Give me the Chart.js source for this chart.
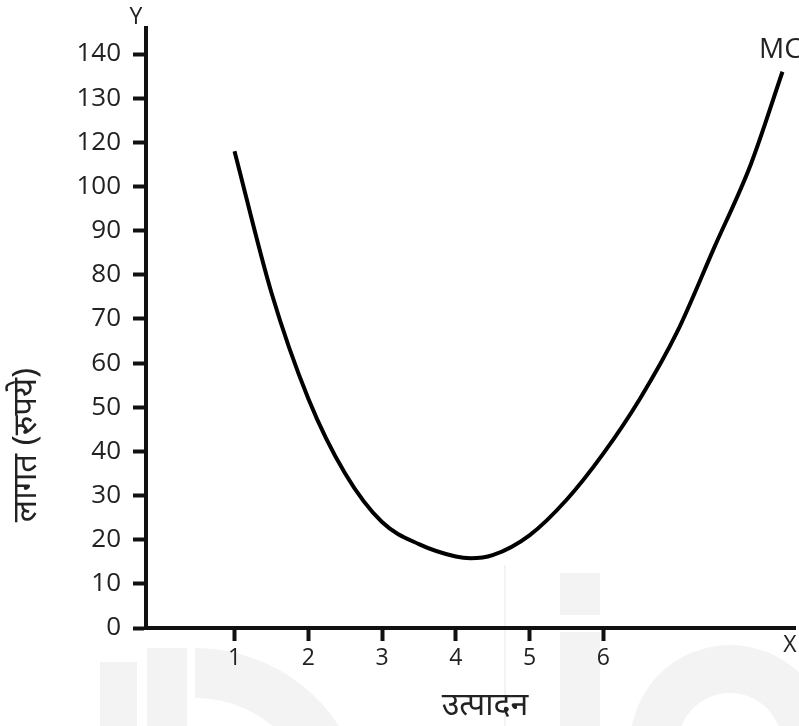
<!DOCTYPE html>
<html>
<head>
<meta charset="utf-8">
<script src="https://cdn.jsdelivr.net/npm/chart.js@4.4.1/dist/chart.umd.min.js"></script>
<style>
  body { margin: 0; background: #fff; }
  #wrap { width: 799px; height: 726px; }
</style>
</head>
<body>
<div id="wrap"><canvas id="mc-chart" width="799" height="726"></canvas></div>
<script>
// values
const yTickLabels = ['0', '10', '20', '30', '40', '50', '60', '70', '80', '90', '100', '120', '130', '140'];
const xTickLabels = [1, 2, 3, 4, 5, 6];
const output = [1.0, 1.5, 2.0, 2.5, 3.0, 3.5, 4.0, 4.2, 4.5, 5.0, 5.5, 6.0, 6.5, 7.0, 7.5, 8.0, 8.43];
const mcCost = [116, 76, 52, 35, 24, 19, 16.2, 15.8, 16.5, 21, 29, 39.5, 52, 67, 86, 110, 136];

const yTitle = 'लागत (रुपये)';
const xTitle = 'उत्पादन';
const curveName = 'MC';

// the y axis is not even (110 is skipped), so map cost to tick position
function costToPos(v) {
    const nums = yTickLabels.map(Number);
    for (let i = 0; i < nums.length - 1; i++) {
        if (v <= nums[i + 1]) return i + (v - nums[i]) / (nums[i + 1] - nums[i]);
    }
    const n = nums.length - 1;
    return n + (v - nums[n]) / (nums[n] - nums[n - 1]);
}

const points = output.map((x, i) => ({ x: x, y: costToPos(mcCost[i]) }));

const tickFont = "'Open Sans', sans-serif";

// faint watermark behind, free texts on top
const extras = {
    id: 'extras',
    beforeDraw(chart) {
        const ctx = chart.ctx;
        ctx.save();
        ctx.fillStyle = '#f3f3f3';
        // ring piece lower left
        ctx.beginPath();
        ctx.arc(195, 820, 172, Math.PI * 1.5, Math.PI * 1.85);
        ctx.arc(195, 820, 122, Math.PI * 1.85, Math.PI * 1.5, true);
        ctx.closePath();
        ctx.fill();
        ctx.fillRect(147, 648, 40, 78);
        ctx.fillRect(100, 662, 37, 64);
        // thin line
        ctx.fillRect(504, 565, 2, 161);
        // "i"
        ctx.fillRect(560, 573, 40, 42);
        ctx.fillRect(560, 632, 40, 94);
        // "o"
        ctx.beginPath();
        ctx.arc(730, 745, 100, Math.PI, Math.PI * 2);
        ctx.arc(730, 745, 52, Math.PI * 2, Math.PI, true);
        ctx.closePath();
        ctx.fill();
        ctx.restore();
    },
    afterDraw(chart) {
        const ctx = chart.ctx;
        ctx.save();
        ctx.fillStyle = '#222';
        ctx.textBaseline = 'middle';
        ctx.textAlign = 'center';
        ctx.font = "23px " + tickFont;
        ctx.fillText('Y', 136, 17);
        ctx.fillText('X', 790, 645);
        ctx.textAlign = 'left';
        ctx.font = "28px " + tickFont;
        ctx.fillText(curveName, 759, 50);
        ctx.textAlign = 'center';
        ctx.font = "32px 'Noto Sans', sans-serif";
        ctx.fillText(xTitle, 485, 706);
        ctx.translate(27, 445);
        ctx.rotate(-Math.PI / 2);
        ctx.font = "33px 'Noto Sans', sans-serif";
        ctx.fillText(yTitle, 0, 0);
        ctx.restore();
    }
};

new Chart(document.getElementById('mc-chart'), {
    type: 'scatter',
    data: {
        datasets: [{
            label: curveName,
            data: points,
            showLine: true,
            borderColor: '#000',
            borderWidth: 4,
            pointRadius: 0,
            cubicInterpolationMode: 'monotone',
            clip: false
        }]
    },
    options: {
        responsive: false,
        animation: false,
        layout: { padding: { top: 23, right: 4, left: 0, bottom: 0 } },
        plugins: {
            legend: { display: false },
            tooltip: { enabled: false }
        },
        scales: {
            x: {
                type: 'linear',
                min: -0.2,
                max: 8.6,
                afterBuildTicks: s => { s.ticks = xTickLabels.map(v => ({ value: v })); },
                afterFit: s => { s.height = 98; },
                grid: { drawOnChartArea: false, tickLength: 13, tickWidth: 4, tickColor: '#111' },
                border: { display: true, width: 4, color: '#111' },
                ticks: { color: '#222', font: { family: tickFont, size: 23 }, padding: 4, maxRotation: 0 }
            },
            y: {
                type: 'linear',
                min: 0,
                max: 13.6,
                afterBuildTicks: s => { s.ticks = yTickLabels.map((t, i) => ({ value: i })); },
                afterFit: s => { s.width = 146; },
                grid: { drawOnChartArea: false, tickLength: 13, tickWidth: 4, tickColor: '#111' },
                border: { display: true, width: 4, color: '#111' },
                ticks: {
                    color: '#222',
                    font: { family: tickFont, size: 26 },
                    padding: 12,
                    callback: v => yTickLabels[v]
                }
            }
        }
    },
    plugins: [extras]
});
</script>
</body>
</html>
